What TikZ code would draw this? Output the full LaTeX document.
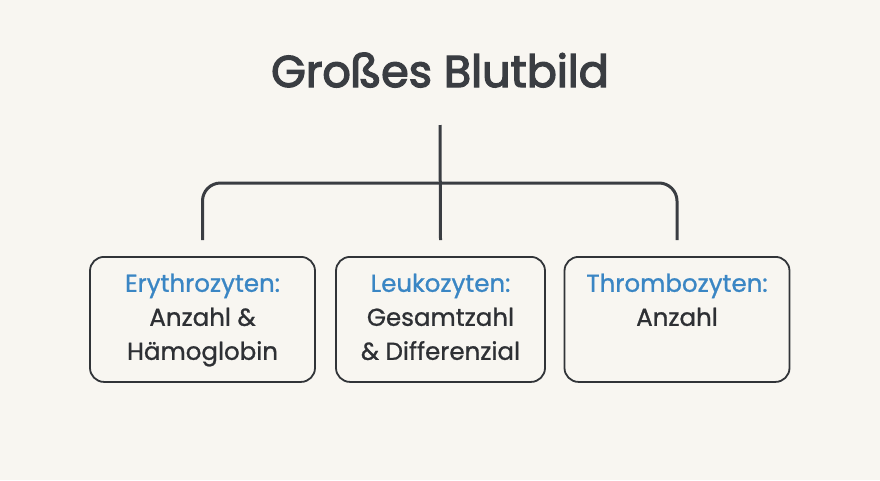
\documentclass[tikz,border=0pt]{standalone}
\usepackage{fontspec}
\setmainfont{Poppins}
\newfontfamily\titlefont[FakeBold=3]{Poppins}
\newfontfamily\cardfont[FakeBold=1]{Poppins}
\usetikzlibrary{positioning}
\definecolor{paper}{HTML}{F8F6F1}
\definecolor{ink}{HTML}{3A3D42}
\definecolor{head}{HTML}{3A86C4}
\definecolor{body}{HTML}{2E3034}

\begin{document}
\begin{tikzpicture}[
        x=1pt, y=-1pt,
        conn/.style={draw=ink, line width=3pt},
        card/.style={draw=ink!85!black, line width=1.8pt, rounded corners=14pt,
            minimum width=225pt, minimum height=125pt, anchor=north, inner sep=0pt},
        cardtext/.style={anchor=north, align=center, inner sep=0pt,
            font=\cardfont\fontsize{24.5}{34}\selectfont, text=body}
    ]

        \fill[paper] (0,0) rectangle (880,480);
        \useasboundingbox (0,0) rectangle (880,480);

        \node[anchor=base, font=\titlefont\fontsize{44.5}{50}\selectfont, text=ink] (title) at (440,87) {Großes Blutbild};

        \node[card] (boxL) at (202.5,256) {};
        \node[card, minimum width=209pt] (boxM) at (440.5,256) {};
        \node[card] (boxR) at (677,256) {};

        \node[cardtext, below=17.5pt of boxL.north] (txtL) {{\color{head}Erythrozyten:}\\Anzahl \&\\Hämoglobin};
        \node[cardtext, below=17.5pt of boxM.north] (txtM) {{\color{head}Leukozyten:}\\Gesamtzahl\\\& Differenzial};
        \node[cardtext, below=17.5pt of boxR.north] (txtR) {{\color{head}Thrombozyten:}\\Anzahl};

        \coordinate (stem) at (440,125);
        \coordinate (hub)  at (440,183);

        \draw[conn] (stem) -- ([yshift=16pt]boxM.north);
        \draw[conn, rounded corners=18pt] ([yshift=16pt]boxL.north) |- (hub) -| ([yshift=16pt]boxR.north);
    \end{tikzpicture}
\end{document}
